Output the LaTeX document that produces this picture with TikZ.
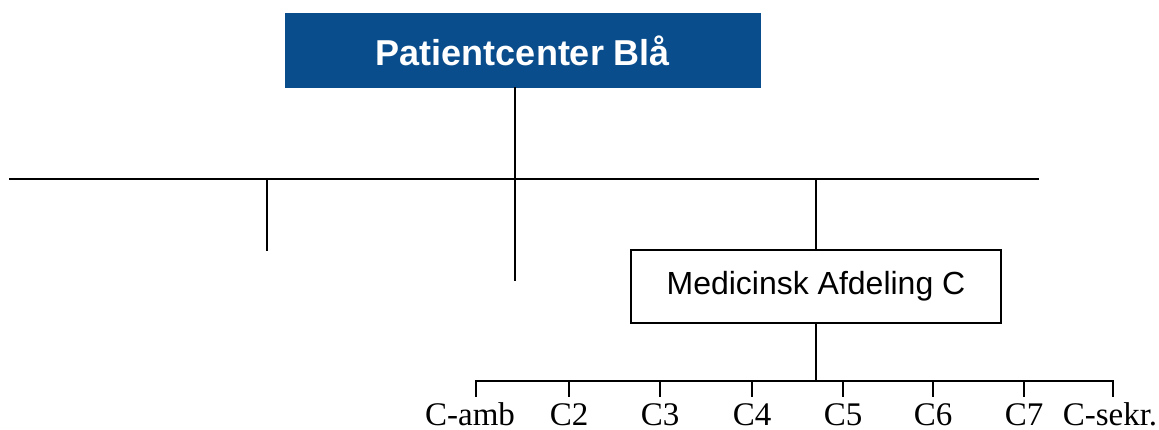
\documentclass[tikz,border=0pt]{standalone}
\usepackage{fontspec}
\setmainfont{Liberation Serif}
\setsansfont{Liberation Sans}
\definecolor{pcblue}{HTML}{0A4D8C}
\begin{document}
\begin{tikzpicture}[x=1pt,y=-1pt,line width=2.4pt,line cap=rect,
	unit/.style={draw,line width=2.4pt,minimum width=370pt,minimum height=73pt,font=\sffamily\fontsize{32}{36}\selectfont},
	lab/.style={anchor=base,inner sep=0pt,font=\fontsize{33}{36}\selectfont}]
				\useasboundingbox (0,0) rectangle (1159,430);
				\node[fill=pcblue,text=white,minimum width=476pt,minimum height=75pt,inner sep=0pt,font=\sffamily\bfseries\fontsize{36}{40}\selectfont] (pc) at (523,50.5) {Patientcenter Blå};
				\node[unit] (med) at (816,286.5) {Medicinsk Afdeling C};
				\coordinate (L) at (10,179);
				\coordinate (R) at (1038,179);
				\coordinate (a) at (267,179);
				\coordinate (a') at (267,250);
				\coordinate (b) at (515,88);
				\coordinate (b') at (515,280);
				\coordinate (m) at (816,179);
				\coordinate (k) at (816,381);
				\coordinate (k1) at (476,381);
				\coordinate (k8) at (1113,381);
				\node[lab] (c1) at (470,425) {C-amb};
				\node[lab] (c2) at (569,425) {C2};
				\node[lab] (c3) at (660,425) {C3};
				\node[lab] (c4) at (752,425) {C4};
				\node[lab] (c5) at (843,425) {C5};
				\node[lab] (c6) at (933,425) {C6};
				\node[lab] (c7) at (1024,425) {C7};
				\node[lab] (c8) at (1110,425) {C-sekr.};
				\draw (L)--(R) (b)--(b') (a)--(a') (m)--(med.north) (med.south)--(k);
				\draw (k1)--(k8);
				\draw (k1)--(476,396) (569,381)--(569,396) (660,381)--(660,396) (752,381)--(752,396)
					(843,381)--(843,396) (933,381)--(933,396) (1024,381)--(1024,396) (k8)--(1113,396);
			\end{tikzpicture}
\end{document}
